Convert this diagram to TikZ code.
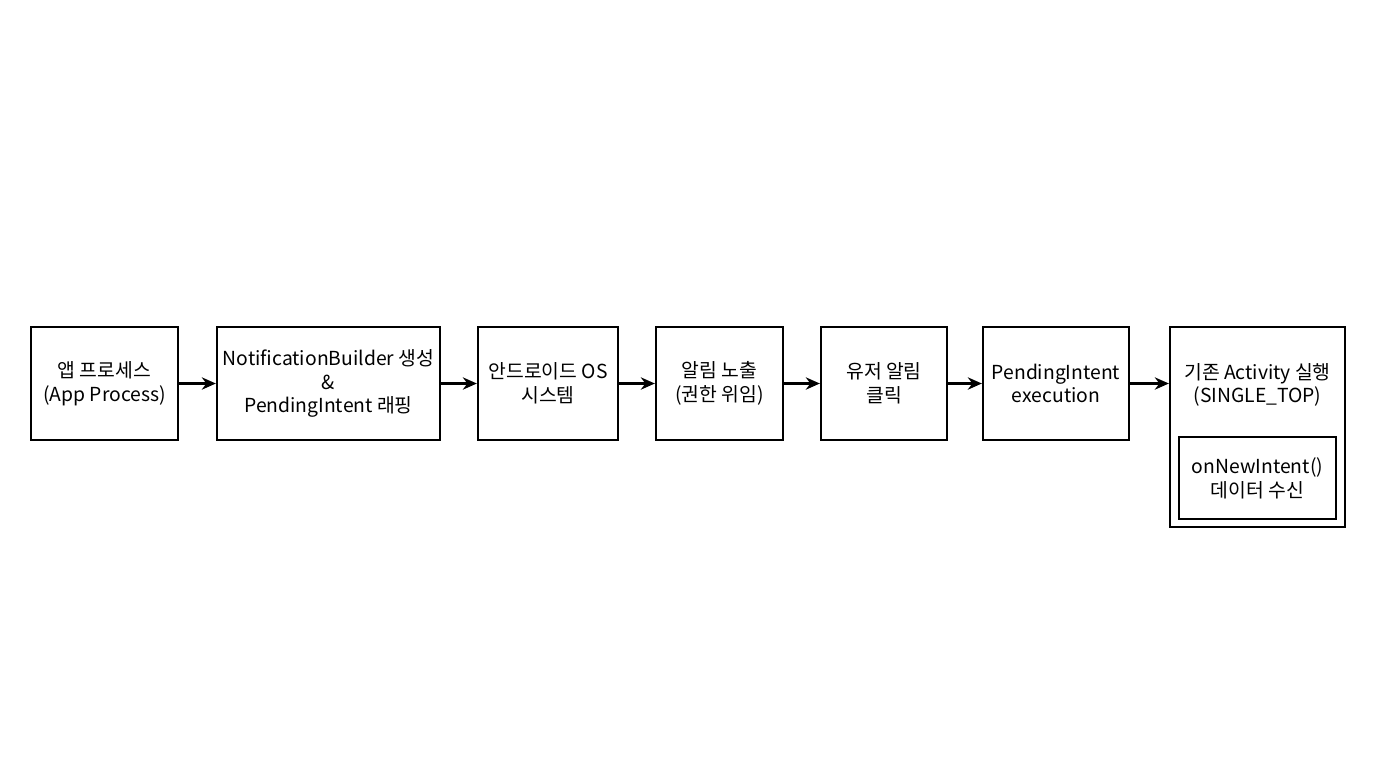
\documentclass[tikz,border=0pt]{standalone}
\usepackage{fontspec}
\setmainfont{Noto Sans CJK KR}
\usetikzlibrary{arrows.meta}

\tikzset{
  box/.style={draw, line width=1.3pt, align=center, font=\fontsize{11}{13.5}\selectfont, inner sep=0pt},
  flow/.style={-{Stealth[length=8pt,width=7pt]}, line width=1.4pt}
}

\begin{document}
\begin{tikzpicture}[x=0.02cm,y=-0.02cm]
    % canvas
    \useasboundingbox (0,0) rectangle (1376,768);

    % boxes
    \node[box, minimum width=147*0.02cm, minimum height=113*0.02cm] (app) at (104.5,383.5) {앱 프로세스\\(App Process)};
    \node[box, minimum width=223*0.02cm, minimum height=113*0.02cm] (builder) at (328.5,383.5) {NotificationBuilder 생성\\\&\\PendingIntent 래핑};
    \node[box, minimum width=140*0.02cm, minimum height=113*0.02cm] (os) at (548,383.5) {안드로이드 OS\\시스템};
    \node[box, minimum width=127*0.02cm, minimum height=113*0.02cm] (show) at (719.5,383.5) {알림 노출\\(권한 위임)};
    \node[box, minimum width=126*0.02cm, minimum height=113*0.02cm] (click) at (884,383.5) {유저 알림\\클릭};
    \node[box, minimum width=146*0.02cm, minimum height=113*0.02cm] (exec) at (1056,383.5) {PendingIntent\\execution};
    \node[box, minimum width=175*0.02cm, minimum height=200*0.02cm] (act) at (1257.5,427) {};
    \node[font=\fontsize{11}{13.5}\selectfont, align=center] (actlabel) at (1257.5,385) {기존 Activity 실행\\(SINGLE\_TOP)};
    \node[box, minimum width=157*0.02cm, minimum height=82*0.02cm] (recv) at (1257.5,478) {onNewIntent()\\데이터 수신};

    % arrows
    \draw[flow] (app) -- (builder);
    \draw[flow] (builder) -- (os);
    \draw[flow] (os) -- (show);
    \draw[flow] (show) -- (click);
    \draw[flow] (click) -- (exec);
    \draw[flow] (exec.east) -- (exec.east -| act.west);
\end{tikzpicture}
\end{document}
